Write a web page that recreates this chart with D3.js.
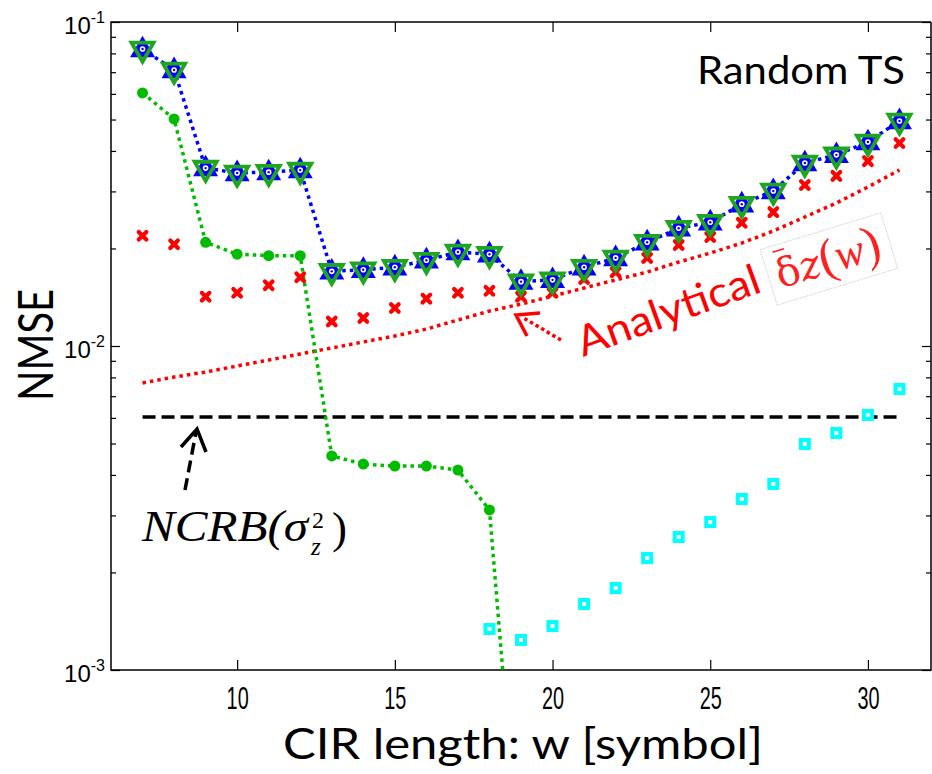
<!DOCTYPE html>
<html><head><meta charset="utf-8">
<script src="https://cdn.jsdelivr.net/npm/d3@7"></script>
<style>body{margin:0;background:#fff}</style>
</head><body><svg id="c" width="932" height="774"></svg>
<script>
// ---- data ----
const wLen = [7,8,9,10,11,12,13,14,15,16,17,18,19,20,21,22,23,24,25,26,27,28,29,30,31];
const blueTriNMSE = [0.0825,0.0711,0.0354,0.0342,0.0344,0.0349,0.0170,0.0172,0.0175,0.0184,0.0195,0.0192,0.0158,0.0160,0.0175,0.0187,0.0209,0.0231,0.0241,0.0274,0.0301,0.0367,0.0389,0.0426,0.0495];
const greenTriNMSE = [0.0825,0.0711,0.0354,0.0342,0.0344,0.0349,0.0170,0.0172,0.0175,0.0184,0.0195,0.0192,0.0158,0.0160,0.0175,0.0187,0.0209,0.0231,0.0241,0.0274,0.0301,0.0367,0.0389,0.0426,0.0495];
const greenDotW = [7,8,9,10,11,12,13,14,15,16,17,18,19];
const greenDotNMSE = [0.0604,0.0502,0.0209,0.0192,0.0190,0.0190,0.00458,0.00432,0.00426,0.00426,0.00414,0.00312,0.000208];
const redXNMSE = [0.0219,0.0206,0.0142,0.0146,0.0154,0.0163,0.0119,0.0122,0.0131,0.0140,0.0146,0.0148,0.0142,0.0146,0.0161,0.0169,0.0187,0.0205,0.0217,0.0240,0.0259,0.0314,0.0335,0.0372,0.0423];
const analyticalNMSE = [0.00769,0.00802,0.00831,0.00868,0.00905,0.00945,0.00986,0.01029,0.01074,0.01128,0.01203,0.01282,0.01347,0.01426,0.01510,0.01599,0.01692,0.01816,0.01936,0.02079,0.02264,0.02501,0.02763,0.03095,0.03494];
const cyanW = [18,19,20,21,22,23,24,25,26,27,28,29,30,31];
const cyanNMSE = [0.001338,0.001238,0.001367,0.001598,0.00179,0.002216,0.002573,0.002862,0.003372,0.003751,0.004983,0.005388,0.006124,0.007369];
const ncrbW = [7,31];
const ncrbNMSE = [0.00604,0.00604];
const xTicks = [10,15,20,25,30];
const yMajor = [1e-3,1e-2,1e-1];
const yMajorExp = ["-3","-2","-1"];
const yMinor = [2,3,4,5,6,7,8,9].flatMap(k => [k*1e-3, k*1e-2]);

// ---- layout ----
const L = 111, R = 931, T = 22, B = 670;
const svg = d3.select("#c");
svg.append("rect").attr("width",932).attr("height",774).attr("fill","#fff");
const x = d3.scaleLinear().domain([6,32]).range([L,R]);
const y = d3.scaleLog().domain([1e-3,1e-1]).range([B,T]);

svg.append("defs").append("clipPath").attr("id","clip")
  .append("rect").attr("x",L).attr("y",T).attr("width",R-L).attr("height",B-T);

// axes
function styleAxis(g){ g.select(".domain").remove(); g.selectAll("line").attr("stroke","#000").attr("stroke-width",1.2); }
const gb = svg.append("g").attr("transform",`translate(0,${B})`)
  .call(d3.axisBottom(x).tickValues(xTicks).tickSize(-10).tickFormat(d3.format("d")));
styleAxis(gb);
gb.selectAll("text").attr("y",0).attr("dy",0)
  .attr("transform","translate(0,39) scale(0.64,1)")
  .attr("font-family","Liberation Sans, Arial, sans-serif").attr("font-size",31).attr("fill","#000");
const gt = svg.append("g").attr("transform",`translate(0,${T})`)
  .call(d3.axisTop(x).tickValues(xTicks).tickSize(-10).tickFormat(""));
styleAxis(gt);

const gl = svg.append("g").attr("transform",`translate(${L},0)`)
  .call(d3.axisLeft(y).tickValues(yMajor).tickSize(-9).tickFormat(""));
styleAxis(gl);
gl.selectAll(".tick").each(function(d,i){
  const t = d3.select(this).append("text").attr("x",-6).attr("y",11)
    .attr("text-anchor","end").attr("font-family","Liberation Sans, Arial, sans-serif")
    .attr("font-size",24).attr("fill","#000");
  t.append("tspan").text("10");
  t.append("tspan").attr("dy",-11).attr("font-size",16).text(yMajorExp[i]);
});
const glm = svg.append("g").attr("transform",`translate(${L},0)`)
  .call(d3.axisLeft(y).tickValues(yMinor).tickSize(-5).tickFormat(""));
styleAxis(glm);
const gr = svg.append("g").attr("transform",`translate(${R},0)`)
  .call(d3.axisRight(y).tickValues(yMajor).tickSize(-9).tickFormat(""));
styleAxis(gr);
const grm = svg.append("g").attr("transform",`translate(${R},0)`)
  .call(d3.axisRight(y).tickValues(yMinor).tickSize(-5).tickFormat(""));
styleAxis(grm);

// frame
svg.append("path").attr("d",`M${R},${T}H${L}V${B}H${R}V${T}`)
  .attr("fill","none").attr("stroke","#000").attr("stroke-width",1.5);

// ---- plot ----
const P = svg.append("g").attr("clip-path","url(#clip)");
const line = d3.line().x(d=>x(d[0])).y(d=>y(d[1]));
const pairs = (xs,ys) => xs.map((v,i)=>[v,ys[i]]);

// NCRB dashed
P.append("path").attr("d",line(pairs(ncrbW,ncrbNMSE))).attr("fill","none")
  .attr("stroke","#000").attr("stroke-width",3.5).attr("stroke-dasharray","13,6");
// analytical
P.append("path").attr("d",line(pairs(wLen,analyticalNMSE))).attr("fill","none")
  .attr("stroke","#ff0000").attr("stroke-width",3.5).attr("stroke-dasharray","3.5,4");
// green dotted
P.append("path").attr("d",line(pairs(greenDotW,greenDotNMSE))).attr("fill","none")
  .attr("stroke","#00bb00").attr("stroke-width",3.5).attr("stroke-dasharray","3.5,4");
P.selectAll(".gd").data(pairs(greenDotW,greenDotNMSE)).join("circle")
  .attr("cx",d=>x(d[0])).attr("cy",d=>y(d[1])).attr("r",5.5).attr("fill","#00bb00");
// blue dotted
P.append("path").attr("d",line(pairs(wLen,blueTriNMSE))).attr("fill","none")
  .attr("stroke","#0000ff").attr("stroke-width",3.5).attr("stroke-dasharray","3.5,4");
// red x
P.selectAll(".rx").data(pairs(wLen,redXNMSE)).join("path")
  .attr("transform",d=>`translate(${x(d[0])},${y(d[1])})`).attr("d","M-3.8,-3.8L3.8,3.8M3.8,-3.8L-3.8,3.8")
  .attr("fill","none").attr("stroke","#ff0000").attr("stroke-width",4.2).attr("stroke-linecap","round");
// cyan squares
P.selectAll(".cs").data(pairs(cyanW,cyanNMSE)).join("rect")
  .attr("x",d=>x(d[0])-4).attr("y",d=>y(d[1])-4).attr("width",8).attr("height",8)
  .attr("fill","#fff").attr("stroke","#00ffff").attr("stroke-width",4);
// blue up triangles
const tri = d3.symbol(d3.symbolTriangle,270);
P.selectAll(".bt").data(pairs(wLen,blueTriNMSE)).join("path")
  .attr("transform",d=>`translate(${x(d[0])},${y(d[1])+1})`).attr("d",tri).attr("fill","#0000ff");
// green down triangles (outline)
const tri2 = d3.symbol(d3.symbolTriangle,210);
P.selectAll(".gt").data(pairs(wLen,greenTriNMSE)).join("path")
  .attr("transform",d=>`translate(${x(d[0])},${y(d[1])}) rotate(180)`).attr("d",tri2)
  .attr("fill","none").attr("stroke","#1fa51f").attr("stroke-width",3.8);
// centre dots
P.selectAll(".cw").data(pairs(wLen,blueTriNMSE)).join("circle")
  .attr("cx",d=>x(d[0])).attr("cy",d=>y(d[1])).attr("r",2.8).attr("fill","#fff");
P.selectAll(".cb").data(pairs(wLen,blueTriNMSE)).join("circle")
  .attr("cx",d=>x(d[0])).attr("cy",d=>y(d[1])).attr("r",1.2).attr("fill","#0000ff");

// ---- annotations ----
const sans = "Lato, 'Open Sans', sans-serif";
svg.append("text").attr("x",697).attr("y",84).attr("font-family",sans).attr("font-size",38)
  .attr("textLength",208).attr("lengthAdjust","spacingAndGlyphs").attr("fill","#000").text("Random TS");
svg.append("text").attr("transform","translate(53,345) rotate(-90)").attr("text-anchor","middle")
  .attr("font-family",sans).attr("font-size",48).attr("fill","#000")
  .attr("textLength",112).attr("lengthAdjust","spacingAndGlyphs").text("NMSE");
svg.append("text").attr("x",283).attr("y",759).attr("font-family",sans).attr("font-size",43)
  .attr("textLength",480).attr("lengthAdjust","spacingAndGlyphs").attr("fill","#000").text("CIR length: w [symbol]");

// Analytical label
svg.append("text").attr("transform","translate(583,357) rotate(-20)")
  .attr("font-family",sans).attr("font-size",42).attr("fill","#ff0000")
  .attr("textLength",192).attr("lengthAdjust","spacingAndGlyphs").text("Analytical");
const bx = svg.append("g").attr("transform","translate(829,259) rotate(-17)");
bx.append("rect").attr("x",-63).attr("y",-29).attr("width",126).attr("height",58)
  .attr("fill","#fff").attr("stroke","#c8c8c8").attr("stroke-width",0.8).attr("stroke-dasharray","1.5,1");
const dt = bx.append("text").attr("x",-55).attr("y",14).attr("font-family","'DejaVu Serif', serif")
  .attr("font-size",40).attr("fill","#ff2020");
dt.append("tspan").text("δ");
dt.append("tspan").attr("font-style","italic").text("z");
dt.append("tspan").attr("font-family","'Liberation Serif', serif").attr("font-size",50).text("(");
dt.append("tspan").attr("font-style","italic").attr("font-family","'Liberation Serif', serif").attr("font-size",44).text("w");
dt.append("tspan").attr("font-family","'Liberation Serif', serif").attr("font-size",50).text(")");
bx.append("line").attr("x1",-52).attr("x2",-40).attr("y1",-23).attr("y2",-23)
  .attr("stroke","#ff2020").attr("stroke-width",1.6);

// red dotted arrow
svg.append("path").attr("d","M561,340L522,317").attr("stroke","#ff0000").attr("stroke-width",3.5)
  .attr("stroke-dasharray","3.5,3").attr("fill","none");
svg.append("path").attr("d","M540,313L516,315L527,336").attr("stroke","#ff0000").attr("stroke-width",3.5)
  .attr("fill","none").attr("stroke-linejoin","miter");

// NCRB label
const serif = "'Liberation Serif', 'Times New Roman', serif";
svg.append("text").attr("x",142).attr("y",541).attr("font-family",serif).attr("font-style","italic")
  .attr("font-size",45).attr("fill","#000").attr("textLength",166).attr("lengthAdjust","spacingAndGlyphs")
  .text("NCRB(σ");
const st = svg.append("text").attr("font-family",serif).attr("fill","#000");
st.append("tspan").attr("x",312).attr("y",528).attr("font-size",24).text("2");
st.append("tspan").attr("x",311).attr("y",555).attr("font-style","italic").attr("font-size",25).text("z");
svg.append("text").attr("x",332).attr("y",543).attr("font-family",serif).attr("font-size",45)
  .attr("fill","#000").text(")");

// black dashed arrow
svg.append("path").attr("d","M185,490L196,432").attr("stroke","#000").attr("stroke-width",3.5)
  .attr("stroke-dasharray","12,6").attr("fill","none");
svg.append("path").attr("d","M181,447L197,429L206,452").attr("stroke","#000").attr("stroke-width",3.5).attr("fill","none");
</script></body></html>
